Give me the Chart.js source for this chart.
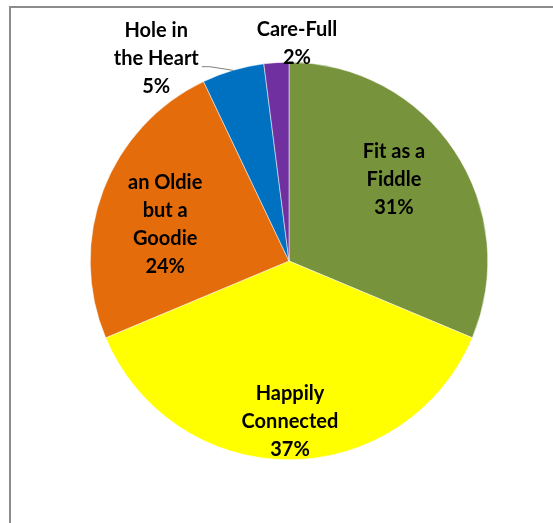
<!DOCTYPE html>
<html>
<head>
<meta charset="utf-8">
<script src="https://cdn.jsdelivr.net/npm/chart.js@4"></script>
<style>
  html, body { margin: 0; padding: 0; background: #ffffff; }
  #wrap { width: 553px; height: 523px; position: relative; }
</style>
</head>
<body>
<div id="wrap"><canvas id="c" width="553" height="523"></canvas></div>
<script>
// ---- Data ----
const categories = ["Fit as a Fiddle", "Happily Connected", "an Oldie but a Goodie", "Hole in the Heart", "Care-Full"];
const values = [31, 37, 24, 5, 2];
const labelLines = [
  ["Fit as a", "Fiddle", "31%"],
  ["Happily", "Connected", "37%"],
  ["an Oldie", "but a", "Goodie", "24%"],
  ["Hole in", "the Heart", "5%"],
  ["Care-Full", "2%"]
];
const colors = ["#77933C", "#FFFF00", "#E46C0A", "#0070C0", "#7030A0"];

// label placement relative to pie centre, in units of the pie radius
const labelPlacement = [
  { dx: 0.528, dy: -0.410 },
  { dx: 0.005, dy: 0.807 },
  { dx: -0.623, dy: -0.183 },
  { dx: -0.668, dy: -1.018, leader: true },
  { dx: 0.040, dy: -1.095 }
];

const framePlugin = {
  id: 'frame',
  beforeDraw(chart) {
    const ctx = chart.ctx;
    ctx.save();
    ctx.fillStyle = '#8c8c8c';
    ctx.fillRect(9, 6, 544, 2);
    ctx.fillRect(9, 6, 2, 517);
    ctx.restore();
  }
};

const labelPlugin = {
  id: 'sliceLabels',
  afterDatasetsDraw(chart) {
    const ctx = chart.ctx;
    const meta = chart.getDatasetMeta(0);
    ctx.save();
    ctx.font = 'bold 20px Lato, "Open Sans", sans-serif';
    ctx.fillStyle = '#000000';
    ctx.textAlign = 'center';
    ctx.textBaseline = 'middle';
    const lh = 28;
    meta.data.forEach((arc, i) => {
      const p = arc.getProps(['x', 'y', 'outerRadius', 'startAngle', 'endAngle'], true);
      const pl = labelPlacement[i];
      const cx = p.x + pl.dx * p.outerRadius;
      const cy = p.y + pl.dy * p.outerRadius;
      const lines = labelLines[i];
      const top = cy - (lines.length - 1) * lh / 2;
      lines.forEach((t, k) => ctx.fillText(t, cx, top + k * lh));
      if (pl.leader) {
        // leader line from text block to slice edge (at slice mid-angle)
        const w = ctx.measureText(lines[1]).width;
        const sx = cx + w / 2 + 3;
        const sy = top + lh + 8;
        const mid = (p.startAngle + p.endAngle) / 2;
        const ex = p.x + Math.cos(mid) * p.outerRadius;
        const ey = p.y + Math.sin(mid) * p.outerRadius;
        ctx.strokeStyle = '#7f7f7f';
        ctx.lineWidth = 1;
        ctx.beginPath();
        ctx.moveTo(sx, sy);
        ctx.lineTo(sx + 8, sy);
        ctx.lineTo(ex, ey);
        ctx.stroke();
      }
    });
    ctx.restore();
  }
};

new Chart(document.getElementById('c'), {
  type: 'pie',
  data: {
    labels: categories,
    datasets: [{
      data: values,
      backgroundColor: colors,
      borderColor: '#ffffff',
      borderWidth: 0.5
    }]
  },
  options: {
    responsive: false,
    animation: false,
    layout: { padding: { left: 90, right: 65, top: 62, bottom: 63 } },
    plugins: {
      legend: { display: false },
      tooltip: { enabled: false }
    }
  },
  plugins: [framePlugin, labelPlugin]
});
</script>
</body>
</html>
